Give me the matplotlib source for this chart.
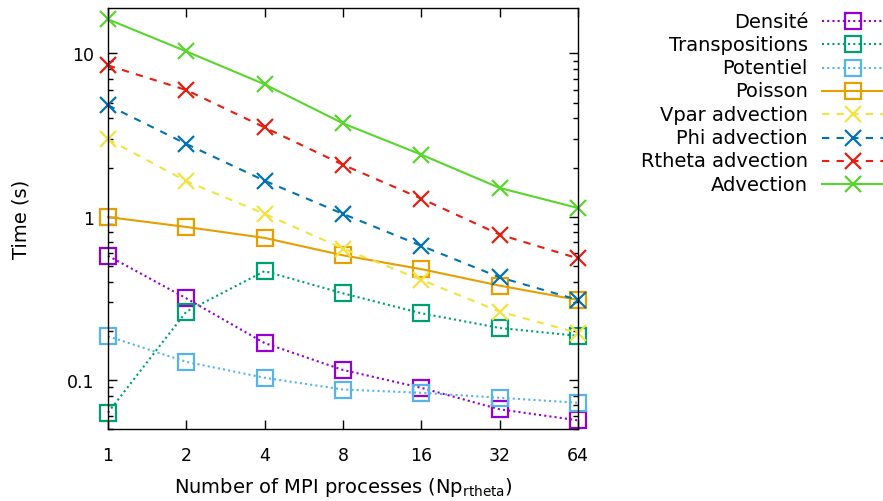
import matplotlib
matplotlib.use("Agg")
import matplotlib.pyplot as plt
from matplotlib.lines import Line2D
from matplotlib.ticker import FixedLocator, LogLocator, NullFormatter, FixedFormatter

procs = [1, 2, 4, 8, 16, 32, 64]

densite = [0.576, 0.316, 0.168, 0.115, 0.0894, 0.066, 0.0565]
transpositions = [0.063, 0.262, 0.464, 0.339, 0.256, 0.208, 0.186]
potentiel = [0.185, 0.129, 0.103, 0.0873, 0.0833, 0.0777, 0.0724]
poisson = [0.995, 0.865, 0.741, 0.58, 0.477, 0.378, 0.309]
vpar_adv = [2.98, 1.65, 1.04, 0.638, 0.41, 0.262, 0.194]
phi_adv = [4.82, 2.79, 1.66, 1.04, 0.663, 0.425, 0.309]
rtheta_adv = [8.45, 5.97, 3.52, 2.08, 1.29, 0.777, 0.555]
advection = [16.2, 10.3, 6.47, 3.73, 2.40, 1.50, 1.13]

labels = ["Densité", "Transpositions", "Potentiel", "Poisson",
          "Vpar advection", "Phi advection", "Rtheta advection", "Advection"]
series = [densite, transpositions, potentiel, poisson,
          vpar_adv, phi_adv, rtheta_adv, advection]
colors = ["#9400d3", "#009e73", "#56b4e9", "#e69f00",
          "#f0e442", "#0072b2", "#e51e10", "#58d62c"]
markers = ["s", "s", "s", "s", "x", "x", "x", "x"]
dotted = (0, (1, 1.5))
dashed = (0, (3.5, 3.5))
styles = [dotted, dotted, dotted, "-", dashed, dashed, dashed, "-"]

plt.rcParams["font.family"] = ["DejaVu Sans"]
plt.rcParams["font.size"] = 12.5

fig = plt.figure(figsize=(8.83, 5.02), dpi=100)
ax = fig.add_axes([108 / 883, 1 - 430 / 502, 470 / 883, 421 / 502])

for y, lab, c, m, ls in zip(series, labels, colors, markers, styles):
    ax.plot(procs, y, color=c, lw=1.5, ls=ls, marker=m, ms=11 if m == "s" else 12,
            mew=1.6, mfc="none", clip_on=False)

ax.set_xscale("log", base=2)
ax.set_yscale("log")
ax.set_xlim(1, 64)
ax.set_ylim(0.05, 19)
ax.xaxis.set_major_locator(FixedLocator(procs))
ax.xaxis.set_major_formatter(FixedFormatter([str(p) for p in procs]))
ax.xaxis.set_minor_locator(FixedLocator([]))
ax.yaxis.set_major_locator(FixedLocator([0.1, 1, 10]))
ax.yaxis.set_major_formatter(FixedFormatter(["0.1", "1", "10"]))
ax.yaxis.set_minor_locator(LogLocator(base=10, subs=range(2, 10)))
ax.yaxis.set_minor_formatter(NullFormatter())
ax.tick_params(which="both", direction="in", top=True, right=True, width=1)
ax.tick_params(axis="x", which="major", length=6.5, pad=12)
ax.tick_params(axis="y", which="major", length=6.5, pad=10)
ax.tick_params(which="minor", length=3.3)
for s in ax.spines.values():
    s.set_linewidth(1)

ax.set_xlabel("Number of MPI processes (Np$_{\\mathregular{rtheta}}$)", fontsize=14, labelpad=8)
ax.set_ylabel("Time (s)", fontsize=14, labelpad=26)

# legend, gnuplot style: text right-aligned, sample on the right
row0 = 22
step = 23.3
for i, (lab, c, m, ls) in enumerate(zip(labels, colors, markers, styles)):
    yy = 1 - (row0 + i * step) / 502
    fig.text(808 / 883, yy, lab, ha="right", va="center", fontsize=14)
    fig.add_artist(Line2D([822 / 883, 853 / 883, 884 / 883], [yy, yy, yy],
                          transform=fig.transFigure, color=c, lw=1.5, ls=ls,
                          marker=m, markevery=[1], ms=11 if m == "s" else 12,
                          mew=1.6, mfc="none"))

fig.savefig("out.png", dpi=100)
